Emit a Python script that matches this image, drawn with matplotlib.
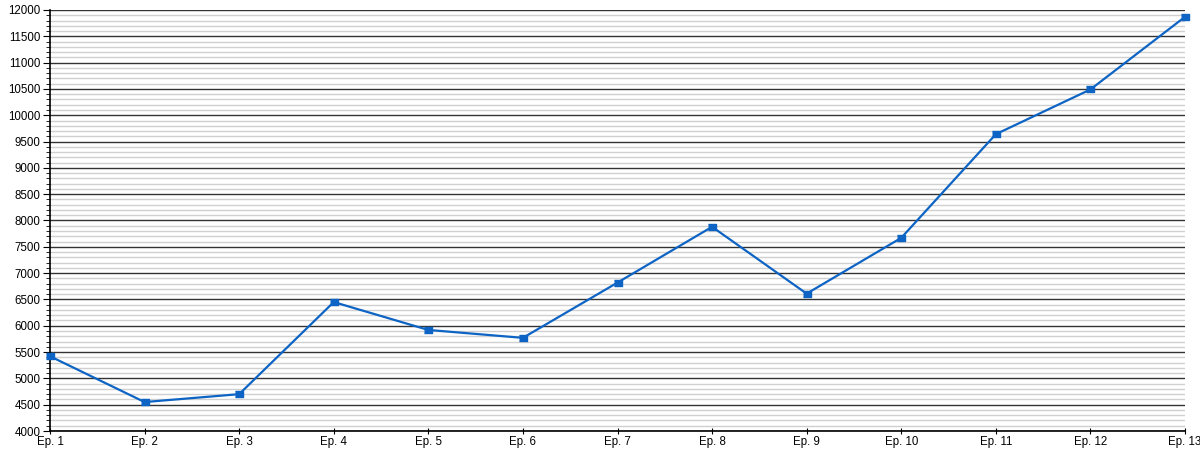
import numpy as np
import matplotlib
matplotlib.use("Agg")
import matplotlib.pyplot as plt
from matplotlib.ticker import MultipleLocator

episodes = ["Ep. 1", "Ep. 2", "Ep. 3", "Ep. 4", "Ep. 5", "Ep. 6", "Ep. 7",
            "Ep. 8", "Ep. 9", "Ep. 10", "Ep. 11", "Ep. 12", "Ep. 13"]
viewers = [5420, 4550, 4700, 6450, 5920, 5770, 6820,
           7880, 6610, 7670, 9640, 10490, 11870]

plt.rcParams['font.family'] = ['Liberation Sans', 'DejaVu Sans']

fig = plt.figure(figsize=(12, 4.5), dpi=100)
ax = fig.add_axes([50 / 1200, 19 / 450, 1135 / 1200, 421 / 450])

x = np.arange(len(episodes))
ax.plot(x, viewers, color="#0d64c4", lw=1.6, zorder=3, clip_on=False)
# slightly wider-than-tall square markers like the original
ax.scatter(x, viewers, marker=[(-1.4, -1), (1.4, -1), (1.4, 1), (-1.4, 1)],
           s=38, color="#0d64c4", zorder=4, clip_on=False)

ax.set_xlim(0, len(episodes) - 1)
ax.set_ylim(4000, 12000)
ax.set_xticks(x)
ax.set_xticklabels(episodes)
ax.yaxis.set_major_locator(MultipleLocator(500))
ax.yaxis.set_minor_locator(MultipleLocator(100))

ax.grid(which="minor", axis="y", color="#d0d0d0", lw=1)
ax.grid(which="major", axis="y", color="#333333", lw=1)
ax.set_axisbelow(True)

for s in ["top", "right"]:
    ax.spines[s].set_visible(False)
for s in ["left", "bottom"]:
    ax.spines[s].set_color("black")
    ax.spines[s].set_linewidth(1.2)

ax.tick_params(axis="y", which="major", length=5, labelsize=8.3, pad=2,
               direction="out")
ax.tick_params(axis="y", which="minor", length=3, direction="out")
ax.tick_params(axis="x", length=5, labelsize=8.3, pad=1, direction="inout")

fig.savefig("out.png", dpi=100)
